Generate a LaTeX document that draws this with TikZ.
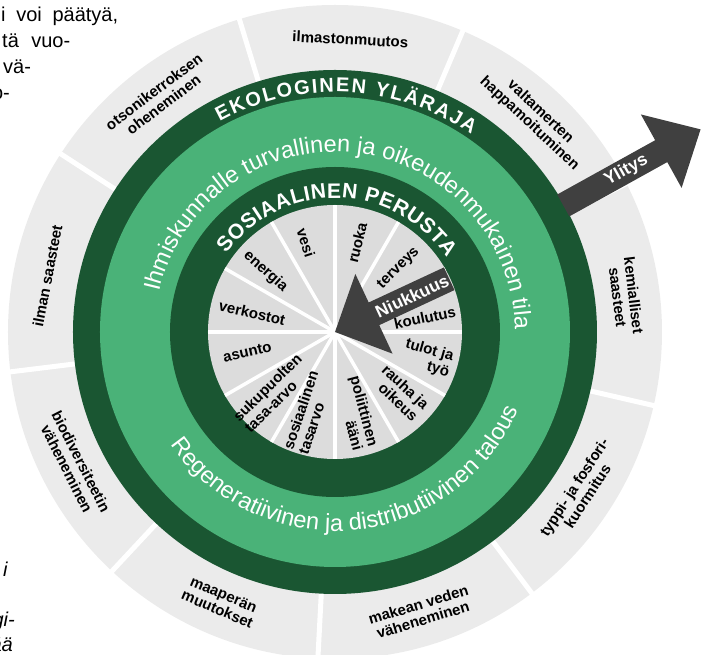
\documentclass[tikz,border=0pt]{standalone}
\usepackage{fontspec}
\setmainfont{Liberation Sans}
\usetikzlibrary{decorations.text}

\definecolor{tummavihrea}{HTML}{1A5632}
\definecolor{vaaleavihrea}{HTML}{4AB278}
\definecolor{ulkoharmaa}{HTML}{EBEBEB}
\definecolor{sisaharmaa}{HTML}{DCDCDC}
\definecolor{nuolenvari}{HTML}{404040}

\tikzset{
  rajateksti/.style={font=\bfseries\fontsize{15}{16}\selectfont, align=center, inner sep=0pt},
  perusteksti/.style={font=\bfseries\fontsize{15}{16}\selectfont, inner sep=0pt},
  nuoliteksti/.style={font=\bfseries\fontsize{17.5}{18}\selectfont, text=white, inner sep=0pt},
  sivuteksti/.style={font=\fontsize{20}{26}\selectfont, inner sep=0pt},
  kursiivi/.style={font=\fontsize{20}{26}\selectfont\itshape, inner sep=0pt}
}

\begin{document}
\begin{tikzpicture}[x=1pt,y=1pt]
                \useasboundingbox (-335,-323) rectangle (370,332);

                % 半径
                \pgfmathsetmacro{\rulko}{327} % 灰色外圈
                \pgfmathsetmacro{\rrengas}{262} % 生态上限
                \pgfmathsetmacro{\rvaalea}{235} % 安全空间
                \pgfmathsetmacro{\rsisa}{165} % 社会基础
                \pgfmathsetmacro{\rpiirakka}{127} % 内圈

                % 外圈灰色扇区
                \fill[ulkoharmaa] (0,0) circle (\rulko);
                \foreach \a in {27,67,...,347}
                    \draw[white, line width=5pt] (0,0) -- (\a:340);

                % 绿色圆环
                \fill[tummavihrea] (0,0) circle (\rrengas);
                \fill[vaaleavihrea] (0,0) circle (\rvaalea);
                \fill[tummavihrea] (0,0) circle (\rsisa);

                % 内圈 12 个扇区
                \fill[sisaharmaa] (0,0) circle (\rpiirakka);
                \foreach \a in {0,30,...,330}
                    \draw[white, line width=3.5pt] (0,0) -- (\a:\rpiirakka);

                % 箭头
                \fill[nuolenvari, rotate=25] (0,0) -- (43,44) -- (43,12.5) -- (126,12.5)
                    -- (126,-12.5) -- (43,-12.5) -- (43,-44) -- cycle;
                \fill[nuolenvari, rotate=29] (261,12.5) -- (373,12.5) -- (373,42) -- (418,0)
                    -- (373,-42) -- (373,-12.5) -- (261,-12.5) -- cycle;
                \node[nuoliteksti, rotate=25] (niukkuus) at (25:85) {Niukkuus};
                \node[nuoliteksti, rotate=29] (ylitys) at (29:333) {Ylitys};

                % 圆环上的文字
                \path[decorate, decoration={text along path, text align=fit to path,
                    text={|\bfseries\fontsize{20}{20}\selectfont\color{white}|EKOLOGINEN YLÄRAJA}}]
                    (118.7:240) arc[start angle=118.7, end angle=55.4, radius=240];
                \path[decorate, decoration={text along path, text align=fit to path,
                    text={|\bfseries\fontsize{21}{21}\selectfont\color{white}|SOSIAALINEN PERUSTA}}]
                    (144.2:134) arc[start angle=144.2, end angle=33.5, radius=134];
                \path[decorate, decoration={text along path, text align=center,
                    text={|\fontsize{23.5}{24}\selectfont\color{white}|Ihmiskunnalle turvallinen ja oikeudenmukainen tila}}]
                    (174:180) arc[start angle=174, end angle=-6, radius=180];
                \path[decorate, decoration={text along path, text align=center,
                    text={|\fontsize{23.5}{24}\selectfont\color{white}|Regeneratiivinen ja distributiivinen talous}}]
                    (195.7:199) arc[start angle=195.7, end angle=355.7, radius=199];

                % 外圈标签
                \foreach \k/\rot/\teksti [count=\nro] in {
                    87/-3/ilmastonmuutos,
                    47/-43/{valtamerten\\happamoituminen},
                    7/-83/{kemialliset\\saasteet},
                    -33/57/{typpi- ja fosfori-\\kuormitus},
                    -73/17/{makean veden\\väheneminen},
                    -113/-23/{maaperän\\muutokset},
                    -153/-63/{biodiversiteetin\\väheneminen},
                    169/79/{ilman saasteet},
                    127/37/{otsonikerroksen\\oheneminen}}
                    \node[rajateksti, rotate=\rot] (raja-\nro) at (\k:293) {\teksti};

                % 内圈标签
                \foreach \k/\sade/\rot/\tasaus/\teksti [count=\nro] in {
                    9/91/12/right/koulutus,
                    45/90/45/right/terveys,
                    76/92/76/right/ruoka,
                    108/94/-72/left/vesi,
                    139/92/-42/left/energia,
                    167/85/-13/left/verkostot,
                    193/90/13/left/asunto,
                    224.5/87/44.5/left/{sukupuolten\\tasa-arvo},
                    251.6/85/71.6/left/{sosiaalinen\\tasarvo},
                    285/84/-75/right/{poliittinen\\ääni},
                    317/89/-43/right/{rauha ja\\oikeus},
                    344/96/-16/right/{tulot ja\\työ}}
                    \node[perusteksti, rotate=\rot, align=\tasaus] (perus-\nro) at (\k:\sade) {\teksti};

                % 页边的正文片段
                \node[sivuteksti, anchor=base west] (rivi-1) at (-334,310) {\makebox[117pt][s]{i voi päätyä,}};
                \node[sivuteksti, anchor=base west] (rivi-2) at (-333,284.5) {\makebox[68pt][s]{tä vuo-}};
                \node[sivuteksti, anchor=base west] (rivi-3) at (-332,258) {vä-};
                \node[sivuteksti, anchor=base east] (rivi-4) at (-325,232) {o-};
                \node[kursiivi, anchor=base west] (alarivi-1) at (-332,-245) {i};
                \node[kursiivi, anchor=base east] (alarivi-2) at (-320,-295) {gi-};
                \node[kursiivi, anchor=base east] (alarivi-3) at (-322,-320) {ää};
            \end{tikzpicture}
\end{document}
